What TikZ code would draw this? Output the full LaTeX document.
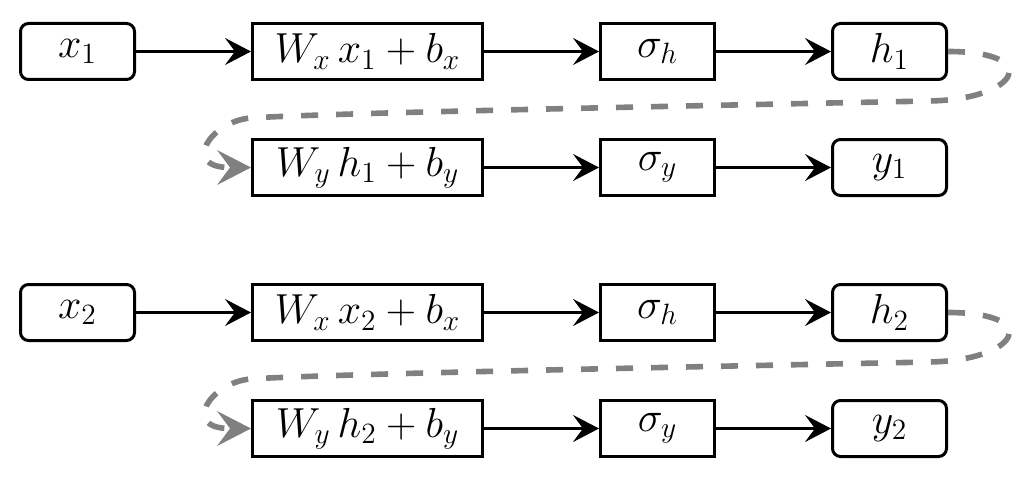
\RequirePackage{fix-cm}
\documentclass[tikz,border=0pt]{standalone}
\usetikzlibrary{arrows.meta}
\begin{document}
\begin{tikzpicture}[x=0.5pt,y=-0.5pt,
  every node/.style={font=\fontsize{21}{25}\selectfont, inner sep=0pt, line width=1.5pt, draw=black},
  sqbox/.style={rectangle, minimum height=28pt},
  rdbox/.style={rectangle, rounded corners=4pt, minimum height=28pt, minimum width=57pt},
  small/.style={minimum width=57pt},
  wide/.style={minimum width=115pt},
  flow/.style={line width=1.2pt, -{Stealth[length=13pt,width=13.5pt,inset=5pt]}},
  loop/.style={line width=2.8pt, draw=gray, dash pattern=on 8.5pt off 9pt,
    -{Stealth[length=17pt,width=17.5pt,inset=6.5pt,fill=gray,line width=0pt]}}]
\useasboundingbox (0,0) rectangle (1026,476);
\foreach \r/\ya/\yb in {1/51.5/167.5, 2/312.5/428.5}{
  \node[rdbox] (x\r) at (77.5,\ya) {$x_\r$};
  \node[sqbox,wide] (wx\r) at (367.5,\ya) {$W_x\,x_\r+b_x$};
  \node[sqbox,small] (sh\r) at (657.5,\ya) {$\sigma_h$};
  \node[rdbox] (h\r) at (889.5,\ya) {$h_\r$};
  \node[sqbox,wide] (wy\r) at (367.5,\yb) {$W_y\,h_\r+b_y$};
  \node[sqbox,small] (sy\r) at (657.5,\yb) {$\sigma_y$};
  \node[rdbox] (y\r) at (889.5,\yb) {$y_\r$};
  \coordinate (ra\r) at (930,\ya+49.5);
  \coordinate (rb\r) at (250,\ya+66.5);
  \draw[flow] (x\r) -- (wx\r);
  \draw[flow] (wx\r) -- (sh\r);
  \draw[flow] (sh\r) -- (h\r);
  \draw[flow] (wy\r) -- (sy\r);
  \draw[flow] (sy\r) -- (y\r);
  \draw[loop] (h\r.east) .. controls +(95,0) and +(90,-2) .. (ra\r)
    .. controls +(-250,5) and +(80,-5) .. (rb\r)
    .. controls +(-40,4) and +(-70,0) .. (wy\r.west);
}
\end{tikzpicture}
\end{document}
